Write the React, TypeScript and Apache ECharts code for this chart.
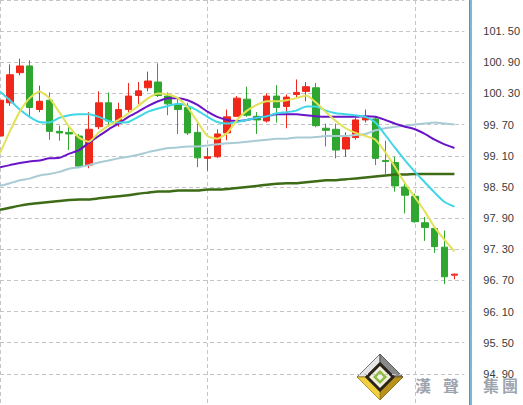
import React, { useEffect, useRef } from "react";
import * as echarts from "echarts";

const categories = Array.from({ length: 48 }, (_, i) => String(i + 1));

const opens = [99.48,100.12,100.70,100.83,99.99,100.17,99.57,99.55,99.48,98.92,99.66,100.12,99.72,99.99,100.26,100.41,100.52,100.25,100.08,100.03,99.55,99.05,99.08,99.54,99.86,100.19,99.86,99.77,100.25,100.05,100.28,100.34,100.41,99.63,99.61,99.23,99.45,99.79,99.81,99.01,98.97,98.50,98.32,97.81,97.70,97.34,96.80];
const closes = [100.17,100.66,100.83,100.03,100.15,99.57,99.54,99.52,98.90,99.61,100.12,99.77,99.99,100.25,100.35,100.54,100.26,100.10,99.99,99.54,99.06,99.08,99.52,99.85,100.21,99.88,99.79,100.25,100.03,100.23,100.32,100.43,99.68,99.59,99.21,99.45,99.79,99.83,99.05,98.99,98.52,98.34,97.83,97.72,97.35,96.77,96.82];
const lows = [99.40,100.06,100.65,99.83,99.94,99.41,99.39,99.21,98.86,98.86,99.61,99.66,99.66,99.94,100.10,100.34,100.23,99.88,99.52,99.50,98.88,98.81,99.06,99.40,99.85,99.85,99.52,99.74,99.74,99.63,100.23,100.15,99.65,99.28,99.05,99.08,99.41,99.74,98.92,98.75,98.41,97.99,97.81,97.46,97.23,96.63,96.72];
const highs = [100.25,100.86,100.97,100.94,100.45,100.32,99.68,99.65,99.52,99.94,100.34,100.32,100.12,100.50,100.52,100.72,100.88,100.32,100.19,100.12,99.74,99.25,99.61,99.99,100.25,100.43,99.94,100.30,100.46,100.28,100.57,100.52,100.50,99.72,99.72,99.55,99.83,99.99,99.85,99.39,99.08,98.57,98.37,97.92,97.74,97.66,96.83];

const ma5 = [99.15,99.57,99.95,100.21,100.34,100.21,99.94,99.66,99.45,99.37,99.55,99.68,99.79,99.92,100.06,100.21,100.30,100.28,100.21,100.03,99.75,99.48,99.43,99.54,99.79,99.97,100.08,100.15,100.15,100.17,100.21,100.26,100.12,99.94,99.77,99.63,99.54,99.48,99.41,99.17,98.88,98.57,98.30,98.03,97.72,97.48,97.26];
const ma10 = [100.34,100.17,99.99,99.85,99.75,99.74,99.83,99.88,99.90,99.90,99.85,99.77,99.74,99.75,99.85,99.95,100.01,100.06,100.10,100.06,99.97,99.85,99.75,99.72,99.75,99.79,99.83,99.86,99.92,99.94,99.97,100.05,100.05,99.97,99.92,99.90,99.88,99.85,99.74,99.50,99.25,99.01,98.79,98.59,98.39,98.21,98.12];
const ma20 = [98.88,98.92,98.96,98.99,99.01,99.05,99.06,99.14,99.21,99.35,99.48,99.61,99.72,99.85,99.95,100.06,100.15,100.21,100.21,100.17,100.08,99.95,99.85,99.79,99.77,99.79,99.83,99.86,99.90,99.90,99.90,99.88,99.86,99.85,99.85,99.85,99.85,99.86,99.85,99.79,99.72,99.66,99.61,99.52,99.41,99.32,99.25];
const ma60 = [98.52,98.57,98.63,98.66,98.72,98.75,98.79,98.85,98.88,98.92,98.97,99.01,99.05,99.08,99.12,99.17,99.21,99.25,99.26,99.28,99.28,99.30,99.32,99.34,99.35,99.37,99.39,99.41,99.43,99.43,99.45,99.45,99.46,99.48,99.48,99.48,99.50,99.52,99.59,99.63,99.66,99.68,99.70,99.72,99.74,99.72,99.70];
const ma120 = [98.06,98.10,98.14,98.17,98.19,98.21,98.23,98.25,98.26,98.26,98.28,98.30,98.32,98.34,98.37,98.39,98.41,98.41,98.43,98.43,98.43,98.45,98.45,98.46,98.48,98.50,98.52,98.54,98.56,98.57,98.57,98.59,98.61,98.63,98.63,98.65,98.66,98.68,98.70,98.72,98.74,98.74,98.75,98.75,98.75,98.75,98.75];

const yMin = 94.3;
const yMax = 102.1;
const yStep = 0.6;

const brandChars = ["漢", "聲", "集", "團"];
const brandX = [415, 443, 483, 502];

const RED = "#f0281a";
const GREEN = "#2fa62f";

function diamond(cx: number, cy: number, r: number) {
  return [[cx, cy - r], [cx + r, cy], [cx, cy + r], [cx - r, cy]];
}

function buildOption() {
  const cx = 380, cy = 377, R = 23, r1 = 15;
  const logo: any[] = [
    { type: "polygon", shape: { points: [[cx - R, cy], [cx, cy - R], [cx, cy - r1], [cx - r1, cy]] }, style: { fill: "#e6e6e6", stroke: "#555", lineWidth: 0.8 } },
    { type: "polygon", shape: { points: [[cx, cy - R], [cx + R, cy], [cx + r1, cy], [cx, cy - r1]] }, style: { fill: "#8a8a8a", stroke: "#444", lineWidth: 0.8 } },
    { type: "polygon", shape: { points: [[cx + R, cy], [cx, cy + R], [cx, cy + r1], [cx + r1, cy]] }, style: { fill: "#b8921a", stroke: "#7a6010", lineWidth: 0.8 } },
    { type: "polygon", shape: { points: [[cx, cy + R], [cx - R, cy], [cx - r1, cy], [cx, cy + r1]] }, style: { fill: "#f0d040", stroke: "#a08010", lineWidth: 0.8 } },
    { type: "polygon", shape: { points: diamond(cx, cy, r1) }, style: { fill: "#2a2418" } },
    { type: "polygon", shape: { points: diamond(cx, cy, 11) }, style: { fill: "#f3efe0" } },
    { type: "polygon", shape: { points: diamond(cx, cy, 7) }, style: { fill: "#8cbc3c" } },
    { type: "polygon", shape: { points: diamond(cx, cy, 3.5) }, style: { fill: "#f4f4ea" } },
  ];
  const texts = brandChars.map((ch, i) => ({
    type: "text",
    x: brandX[i],
    y: 385,
    style: { text: ch, font: 'bold 16px "Noto Sans CJK TC"', fill: "#9ea4ae", verticalAlign: "middle" },
  }));
  return {
    animation: false,
    backgroundColor: "#ffffff",
    grid: { left: -3, right: 57, top: -4, bottom: -20 },
    xAxis: {
      type: "category",
      data: categories,
      boundaryGap: false,
      axisLine: { show: false },
      axisTick: { show: false },
      axisLabel: { show: false },
      splitLine: {
        show: true,
        interval: (i: number) => i % 21 === 0,
        lineStyle: { color: "#c4c4c4", type: [4, 3], width: 1 },
      },
    },
    yAxis: {
      type: "value",
      position: "right",
      min: yMin,
      max: yMax,
      interval: yStep,
      scale: true,
      axisLine: { show: false },
      axisTick: { show: false },
      splitLine: { show: true, lineStyle: { color: "#c4c4c4", type: [4, 3], width: 1 } },
      axisLabel: {
        showMinLabel: false,
        showMaxLabel: false,
        margin: 19,
        align: "left",
        color: "#3a3a3a",
        fontSize: 11,
        fontFamily: "Liberation Sans",
        formatter: (v: number) => v.toFixed(2).replace(".", ". "),
      },
    },
    series: [
      {
        type: "candlestick",
        data: opens.map((o, i) => [o, closes[i], lows[i], highs[i]]),
        barWidth: 7,
        itemStyle: { color: RED, color0: GREEN, borderColor: RED, borderColor0: GREEN, borderWidth: 1 },
      },
      { type: "line", data: ma120, symbol: "none", smooth: 0.2, lineStyle: { color: "#3d6b16", width: 2.5 } },
      { type: "line", data: ma60, symbol: "none", smooth: 0.2, lineStyle: { color: "#a9cbd6", width: 2 } },
      { type: "line", data: ma20, symbol: "none", smooth: 0.2, lineStyle: { color: "#6a14c8", width: 2 } },
      { type: "line", data: ma10, symbol: "none", smooth: 0.2, lineStyle: { color: "#3fd6e6", width: 2 } },
      { type: "line", data: ma5, symbol: "none", smooth: 0.2, lineStyle: { color: "#e2e256", width: 2 } },
    ],
    graphic: [
      { type: "line", z: 50, shape: { x1: 469.5, y1: 0, x2: 469.5, y2: 405 }, style: { stroke: "#7d8f5c", lineWidth: 1 } },
      { type: "line", z: 50, shape: { x1: 471, y1: 0, x2: 471, y2: 405 }, style: { stroke: "#4fa3c7", lineWidth: 1.5 } },
      { type: "group", z: 100, children: logo },
      { type: "group", z: 100, children: texts },
    ],
  };
}

export default function App() {
  const ref = useRef<HTMLDivElement>(null);
  useEffect(() => {
    const chart = echarts.init(ref.current!, null, { renderer: "svg" });
    chart.setOption(buildOption() as any);
    return () => chart.dispose();
  }, []);
  return (
    <div
      ref={ref}
      style={{ position: "fixed", left: 0, top: 0, width: 523, height: 405, background: "#fff" }}
    />
  );
}
